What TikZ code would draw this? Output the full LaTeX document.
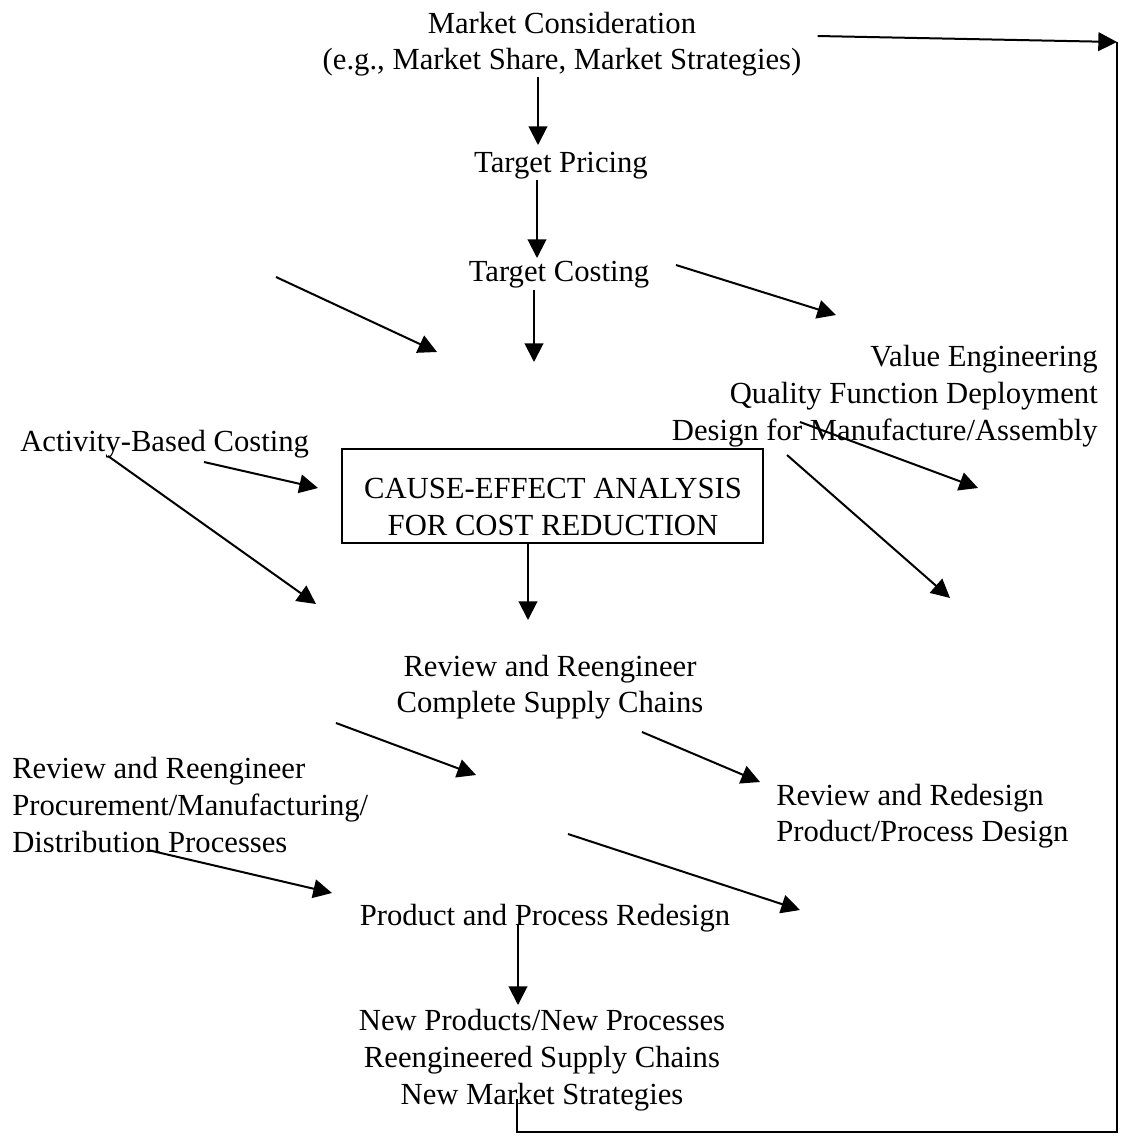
\documentclass[tikz,border=0pt]{standalone}
\usepackage{fontspec}
\setmainfont{Liberation Serif}
\usetikzlibrary{arrows.meta}
\begin{document}
\begin{tikzpicture}[x=0.75pt,y=-0.75pt,
  txt/.style={inner sep=0pt,font=\fontsize{23}{27.5}\selectfont},
  flow/.style={line width=1.5pt,-{Triangle[length=14pt,width=14pt]}},
  plain/.style={line width=1.5pt}]
\useasboundingbox (0,0) rectangle (1135,1147);

% text blocks
\node[txt,align=center] (mc) at (562,44) {Market Consideration\\(e.g., Market Share, Market Strategies)};
\node[txt] (tp) at (561,166) {Target Pricing};
\node[txt] (tc) at (559,275) {Target Costing};
\node[txt,align=right,anchor=east] (ve) at (1098,396) {Value Engineering\\Quality Function Deployment\\Design for Manufacture/Assembly};
\node[txt,anchor=west] (abc) at (20,444) {Activity-Based Costing};
\node[draw,line width=1.1pt,inner sep=0pt,minimum width=315.75pt,minimum height=70.5pt] (ceabox) at (552.5,496) {};
\node[txt,align=center] (cea) at (553,507) {CAUSE-EFFECT ANALYSIS\\FOR COST REDUCTION};
\node[txt,align=center] (rr) at (550,687) {Review and Reengineer\\Complete Supply Chains};
\node[txt,align=left,anchor=west] (rrd) at (776,816) {Review and Redesign\\Product/Process Design};
\node[txt,align=left,anchor=west] (rrp) at (12,805) {Review and Reengineer\\Procurement/Manufacturing/\\Distribution Processes};
\node[txt] (ppr) at (545,918) {Product and Process Redesign};
\node[txt,align=center] (np) at (542,1060) {New Products/New Processes\\Reengineered Supply Chains\\New Market Strategies};

% free ends of the connectors
\coordinate (p1) at (538,145);
\coordinate (p2) at (537,258);
\coordinate (p3s) at (534,290); \coordinate (p3) at (534,362);
\coordinate (p4s) at (276,277); \coordinate (p4) at (437,352);
\coordinate (p5s) at (676,265); \coordinate (p5) at (836,315);
\coordinate (p6s) at (204,462); \coordinate (p6) at (318,488);
\coordinate (p7s) at (108,456); \coordinate (p7) at (316,604);
\coordinate (p8) at (528,620);
\coordinate (p9s) at (800,422); \coordinate (p9) at (978,488);
\coordinate (p10s) at (787,455); \coordinate (p10) at (950,598);
\coordinate (p11s) at (336,723); \coordinate (p11) at (476,775);
\coordinate (p12s) at (642,732); \coordinate (p12) at (760,782);
\coordinate (p13s) at (148,850); \coordinate (p13) at (332,893);
\coordinate (p14s) at (568,834); \coordinate (p14) at (800,910);
\coordinate (p15) at (518,1005);
\coordinate (fbl) at (517,1132);
\coordinate (fbr) at (1117,1132);
\coordinate (fbt) at (1117,42);

% connectors
\draw[flow] (mc.south -| p1) -- (p1);
\draw[flow] (tp.south -| p2) -- (p2);
\draw[flow] (p3s) -- (p3);
\draw[flow] (p4s) -- (p4);
\draw[flow] (p5s) -- (p5);
\draw[flow] (p6s) -- (p6);
\draw[flow] (p7s) -- (p7);
\draw[flow] (ceabox.south -| p8) -- (p8);
\draw[flow] (p9s) -- (p9);
\draw[flow] (p10s) -- (p10);
\draw[flow] (p11s) -- (p11);
\draw[flow] (p12s) -- (p12);
\draw[flow] (p13s) -- (p13);
\draw[flow] (p14s) -- (p14);
\draw[flow] (ppr.south -| p15) ++(0,-8) -- (p15);

% feedback loop back to the market
\draw[plain] (np.south -| fbl) ++(0,-12) -- (fbl) -- (fbr) -- (fbt);
\draw[flow] (mc.east) ++(16,-8) -- (fbt);
\end{tikzpicture}
\end{document}
